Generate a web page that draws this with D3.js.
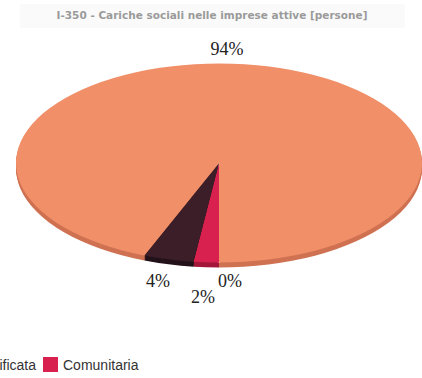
<!DOCTYPE html>
<html>
<head>
<meta charset="utf-8">
<script src="https://cdn.jsdelivr.net/npm/d3@7"></script>
<style>
  html, body { margin: 0; padding: 0; background: #fff; }
  svg { display: block; }
</style>
</head>
<body>
<svg id="chart" width="422" height="378"></svg>
<script>
// Slices in drawing order, clockwise from the bottom of the pie
const categories = ["Non classificata", "Comunitaria", "Extracomunitaria", "Italiana"];
const values = [0, 2, 4, 94];
const valueLabels = ["0%", "2%", "4%", "94%"];
const colors = ["#ffffff", "#d9214f", "#3b1e27", "#f08f68"];
const sideColors = ["#dddddd", "#a4173a", "#24121a", "#cf7252"];

const svg = d3.select("#chart");

// Title band
svg.append("rect").attr("x", 20).attr("y", 4).attr("width", 385).attr("height", 24)
  .attr("fill", "#fafafa");
svg.append("text")
  .attr("x", 212).attr("y", 19)
  .attr("text-anchor", "middle")
  .attr("font-family", "DejaVu Sans, Verdana, sans-serif")
  .attr("font-weight", "bold")
  .attr("font-size", 10.5)
  .attr("fill", "#9a9a9a")
  .text("I-350 - Cariche sociali nelle imprese attive [persone]");

// Pie geometry: circle of radius R squashed vertically into an ellipse
const cx = 219, cy = 163, R = 203, squash = 0.49, depth = 5;

const pie = d3.pie().sort(null).value(d => d.v)
  .startAngle(Math.PI).endAngle(3 * Math.PI);
const arcs = pie(values.map((v, i) => ({ v, i })));
const arc = d3.arc().innerRadius(0).outerRadius(R);

// Side wall of the disc
for (let k = depth; k >= 1; k--) {
  svg.append("g")
    .attr("transform", `translate(${cx},${cy + k}) scale(1,${squash})`)
    .selectAll("path").data(arcs).join("path")
    .attr("d", arc)
    .attr("fill", d => sideColors[d.data.i]);
}

// Top face
const topFace = svg.append("g")
  .attr("transform", `translate(${cx},${cy}) scale(1,${squash})`);
topFace.selectAll("path").data(arcs).join("path")
  .attr("d", arc)
  .attr("fill", d => colors[d.data.i])
  .attr("stroke", d => d.data.v === 0 ? "#ffffff" : "none")
  .attr("stroke-width", 1.6)
  .attr("vector-effect", "non-scaling-stroke");

// Value labels
const labelPos = [
  { x: 230, y: 287 },
  { x: 203, y: 303 },
  { x: 158, y: 287 },
  { x: 227, y: 55 }
];
svg.append("g").selectAll("text").data(arcs).join("text")
  .attr("x", d => labelPos[d.data.i].x)
  .attr("y", d => labelPos[d.data.i].y)
  .attr("text-anchor", "middle")
  .attr("font-family", "Liberation Serif, Times New Roman, serif")
  .attr("font-size", 18)
  .attr("fill", "#222")
  .text(d => valueLabels[d.data.i]);

// Legend row: the preceding entry runs past the left edge
const legend = svg.append("g")
  .attr("font-family", "Liberation Sans, Arial, sans-serif")
  .attr("font-size", 14)
  .attr("fill", "#333");
legend.append("text").attr("x", 36).attr("y", 370)
  .attr("text-anchor", "end").text(categories[0]);
legend.append("rect").attr("x", 43).attr("y", 357).attr("width", 15).attr("height", 15)
  .attr("fill", colors[1]);
legend.append("text").attr("x", 63).attr("y", 370).text(categories[1]);
</script>
</body>
</html>
